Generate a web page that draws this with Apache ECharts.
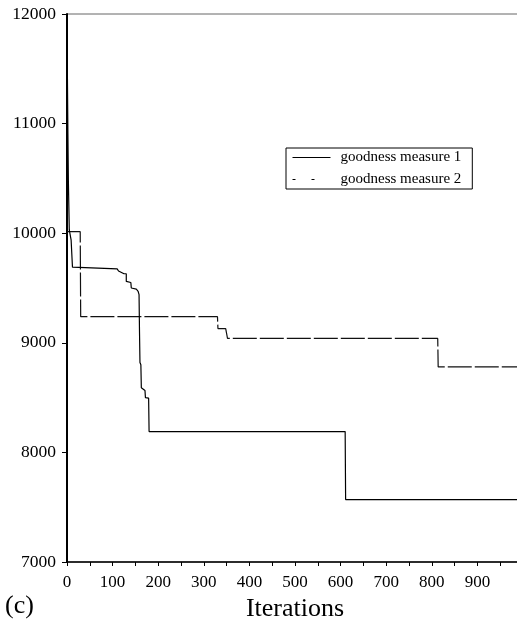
<!DOCTYPE html>
<html>
<head>
<meta charset="utf-8">
<script src="https://cdn.jsdelivr.net/npm/echarts@6/dist/echarts.min.js"></script>
<style>
html,body{margin:0;padding:0;background:#fff;}
#chart{width:517px;height:630px;}
</style>
</head>
<body>
<div id="chart"></div>
<script>
// Series 1: goodness measure 1 (solid)
const iters1 = [0, 2, 3, 5, 9, 12, 13, 110, 113, 125, 130, 130, 140, 141, 152, 156, 158, 159, 160, 162, 163, 171, 172, 179, 180, 610, 611, 1000];
const values1 = [11880, 10900, 10480, 10030, 9940, 9690, 9675, 9675, 9655, 9630, 9630, 9560, 9550, 9500, 9490, 9470, 9440, 9100, 8820, 8800, 8590, 8565, 8500, 8495, 8190, 8190, 7570, 7570];
// Series 2: goodness measure 2 (dashed)
const iters2 = [0, 29, 30, 330, 331, 348, 352, 813, 814, 1000];
const values2 = [10014, 10014, 9238, 9238, 9130, 9130, 9040, 9040, 8780, 8780];

const seriesNames = ['goodness measure 1', 'goodness measure 2'];
const yTicks = [7000, 8000, 9000, 10000, 11000, 12000];
const xLabelMax = 900;

const FONT = '"Liberation Serif", "Times New Roman", serif';

function pairs(xs, ys) { return xs.map((x, i) => [x, ys[i]]); }

const chart = echarts.init(document.getElementById('chart'), null, {renderer: 'canvas'});
chart.setOption({
  animation: false,
  backgroundColor: '#fff',
  color: ['#000', '#111'],
  grid: {left: 67, top: 14, right: -6, bottom: 68, show: true, borderColor: '#666', borderWidth: 1,
         outerBoundsMode: 'none', containLabel: false},
  legend: {
    orient: 'vertical',
    left: 286, top: 148,
    padding: [2, 11, 2, 6],
    itemWidth: 38, itemHeight: 12, itemGap: 7,
    borderColor: '#000', borderWidth: 1,
    itemStyle: {opacity: 0},
    textStyle: {fontFamily: FONT, fontSize: 15, color: '#000', padding: [0, 0, 0, 5]},
    data: [
      {name: seriesNames[0], itemStyle: {opacity: 0}, lineStyle: {color: '#000', width: 1, type: 'solid'}},
      {name: seriesNames[1], itemStyle: {opacity: 0}, lineStyle: {color: '#000', width: 1, type: [3, 16]}}
    ]
  },
  xAxis: {
    type: 'value', min: 0, max: 1000, interval: 50,
    name: 'Iterations', nameLocation: 'middle', nameGap: 31,
    nameTextStyle: {fontFamily: FONT, fontSize: 26, color: '#000'},
    axisLine: {lineStyle: {color: '#000', width: 1.5}},
    axisTick: {show: true, length: 4, lineStyle: {color: '#000'}},
    axisLabel: {
      fontFamily: FONT, fontSize: 17, color: '#000', margin: 12,
      formatter: v => (v % 100 === 0 && v <= xLabelMax) ? String(v) : ''
    },
    splitLine: {show: false}
  },
  yAxis: {
    type: 'value', min: yTicks[0], max: yTicks[yTicks.length - 1], interval: 1000,
    axisLine: {show: true, lineStyle: {color: '#000', width: 2}},
    axisTick: {show: true, length: 5, lineStyle: {color: '#000'}},
    axisLabel: {fontFamily: FONT, fontSize: 17.5, color: '#000', margin: 11, formatter: v => String(v)},
    splitLine: {show: false}
  },
  graphic: [{
    type: 'text', left: 5, top: 593,
    style: {text: '(c)', font: '26px ' + FONT, fill: '#000'}
  }],
  series: [
    {
      name: seriesNames[0], type: 'line', data: pairs(iters1, values1),
      symbol: 'none', itemStyle: {color: '#000'}, lineStyle: {color: '#000', width: 1.2}, z: 3
    },
    {
      name: seriesNames[1], type: 'line', data: pairs(iters2, values2),
      symbol: 'none', itemStyle: {color: '#111'}, lineStyle: {color: '#111', width: 1.2, type: [24, 3]}, z: 2
    }
  ]
});
</script>
</body>
</html>
